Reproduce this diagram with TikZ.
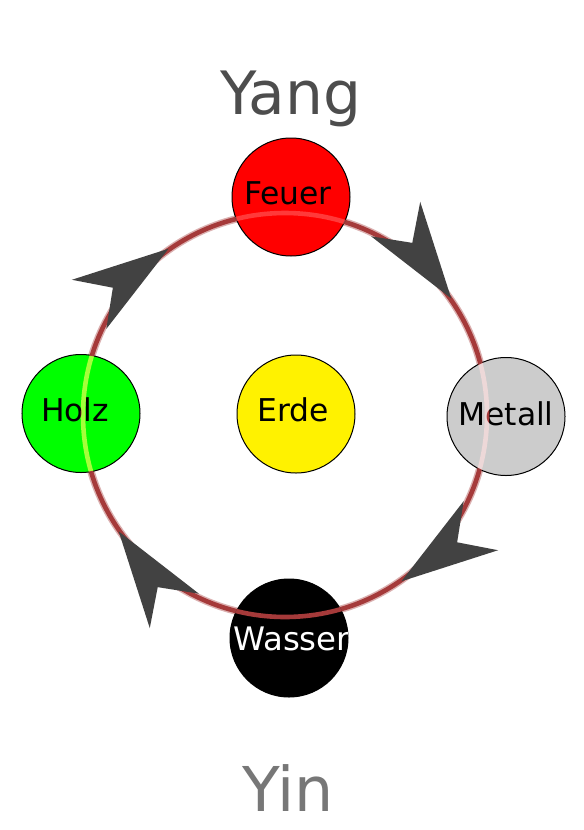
\documentclass[tikz,border=0pt]{standalone}
\usepackage{fontspec}
\setmainfont{DejaVu Sans}
\usetikzlibrary{calc}
\definecolor{ringc}{RGB}{165,58,58}
\definecolor{arrowc}{RGB}{66,66,66}
\definecolor{yangc}{RGB}{77,77,77}
\definecolor{yinc}{RGB}{119,119,119}
\definecolor{metallc}{RGB}{204,204,204}
\tikzset{
  elem/.style={circle, draw=black, line width=1bp, minimum size=118bp, inner sep=0pt},
  elemtext/.style={anchor=base, inner sep=0pt, font=\fontsize{31.5}{36}\selectfont},
  ringsoft/.style={draw=ringc, line width=7.5bp, opacity=0.4},
  ringcore/.style={draw=ringc, line width=4.6bp},
  arrowhead/.style={fill=arrowc},
  bigtext/.style={anchor=base, inner sep=0pt}
}
\begin{document}
\begin{tikzpicture}[x=1bp,y=1bp]
\useasboundingbox[fill=white] (0,0) rectangle (584,-830);
\coordinate (C) at (285,-415);
% ring
\draw[ringsoft] (C) circle[radius=202];
\draw[ringcore] (C) circle[radius=202];
% arrowheads
\foreach \a in {35,125,215,305}{
  \begin{scope}[shift={(C)}, rotate=\a]
    \fill[arrowhead] (203,0) -- (233,97) -- (203,68) -- (173,97) -- cycle;
  \end{scope}
}
% element circles
\node[elem, fill=red] (feuer) at (291,-197) {};
\node[elem, fill=green] (holz) at (81,-413.5) {};
\node[elem, fill=yellow] (erde) at (296,-414) {};
\node[elem, fill=metallc] (metall) at (506,-416.5) {};
\node[elem, fill=black] (wasser) at (289,-638) {};
% texts
\node[elemtext] (feuerT) at (288,-204) {Feuer};
\node[elemtext] (holzT) at (75,-421) {Holz};
\node[elemtext] (erdeT) at (293.5,-421) {Erde};
\node[elemtext] (metallT) at (506,-425) {Metall};
\begin{scope}
  \clip (289,-638) circle[radius=58.5];
  \node[elemtext, anchor=base west, text=white, font=\fontsize{32.5}{36}\selectfont] (wasserT) at (233,-650) {Wasser};
\end{scope}
\node[bigtext, text=yangc, font=\fontsize{60}{66}\selectfont] (yang) at (291,-114) {Yang};
\node[bigtext, text=yinc, font=\fontsize{62}{70}\selectfont] (yin) at (288,-811) {Yin};
% ring shown through the circles (screen blend)
\begin{scope}
  \clip (291,-197) circle[radius=59.5] (81,-413.5) circle[radius=59.5]
        (506,-416.5) circle[radius=59.5] (289,-638) circle[radius=59.5];
  \begin{scope}[blend mode=screen]
    \draw[ringcore] (C) circle[radius=202];
  \end{scope}
\end{scope}
\end{tikzpicture}
\end{document}
